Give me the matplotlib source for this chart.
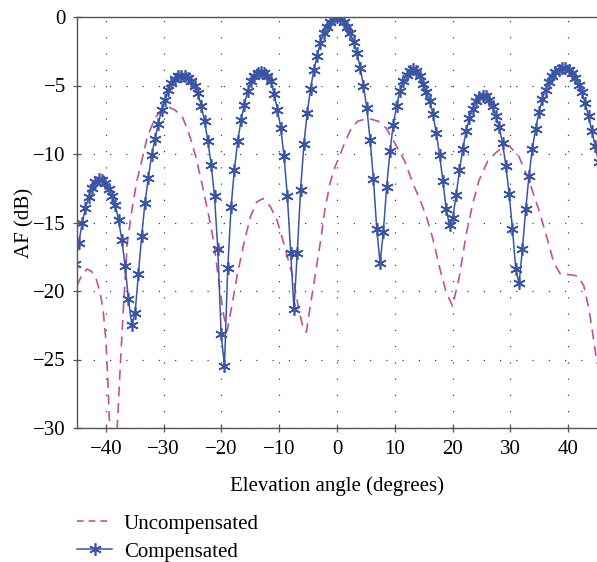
import numpy as np
import matplotlib.pyplot as plt
from matplotlib.lines import Line2D

plt.rcParams['font.family'] = ['Liberation Serif', 'DejaVu Serif']

# Compensated pattern, sampled every 0.01 rad (k = -79 ... 79)
comp_k = np.arange(-79, 80)
comp_af = [
    -18.0, -16.47, -15.07, -13.97, -13.15, -12.5, -12.05, -11.85, -11.9, -12.15,
    -12.55, -13.05, -13.7, -14.8, -16.25, -18.2, -20.6, -22.45, -21.63, -18.78,
    -15.96, -13.56, -11.74, -10.1, -8.92, -7.79, -6.8, -6.04, -5.36, -4.8,
    -4.5, -4.33, -4.28, -4.32, -4.45, -4.65, -5.0, -5.55, -6.5, -7.6,
    -9.05, -10.8, -13.1, -16.95, -23.14, -25.45, -18.3, -13.9, -11.14, -9.07,
    -7.55, -6.4, -5.43, -4.7, -4.29, -4.1, -4.05, -4.12, -4.3, -4.7,
    -5.6, -6.77, -8.1, -10.17, -13.05, -17.2, -21.3, -17.2, -12.6, -9.3,
    -7.0, -5.27, -3.86, -2.84, -1.87, -1.17, -0.7, -0.35, -0.1, 0.0,
    -0.1, -0.34, -0.7, -1.19, -1.8, -2.6, -3.7, -5.02, -6.65, -8.95,
    -11.8, -15.45, -17.95, -15.7, -12.4, -9.8, -7.86, -6.5, -5.4, -4.7,
    -4.22, -3.93, -3.81, -3.95, -4.3, -4.9, -5.5, -6.1, -7.1, -8.5,
    -10.1, -12.0, -14.05, -15.2, -14.65, -12.96, -11.2, -9.63, -8.35, -7.37,
    -6.72, -6.16, -5.85, -5.75, -5.8, -6.05, -6.5, -7.25, -8.03, -9.2,
    -10.85, -12.9, -15.45, -18.4, -19.45, -16.96, -14.05, -11.57, -9.63, -8.15,
    -6.96, -6.0, -5.31, -4.75, -4.34, -4.05, -3.86, -3.74, -3.74, -3.86,
    -4.1, -4.45, -4.95, -5.5, -6.3, -7.25, -8.35, -9.39, -10.6,
]
comp_angle = np.degrees(comp_k * 0.01)

# Uncompensated pattern (angle in degrees, AF in dB)
unc_angle = [
    -45.0, -44.0, -43.2, -42.4, -41.7, -41.0, -40.5, -40.0, -39.7, -39.3,
    -38.8, -38.1, -37.6, -37.0, -36.3, -35.4, -34.6, -33.8, -32.8, -31.4,
    -30.0, -29.0, -28.0, -26.8, -25.7, -24.5, -23.4, -22.2, -21.3, -20.5,
    -19.6, -19.0, -18.2, -17.3, -16.1, -15.0, -13.9, -12.8, -11.6, -10.4,
    -9.3, -8.4, -7.6, -6.7, -5.8, -5.3, -4.7, -3.8, -2.9, -2.1,
    -1.2, -0.3, 0.5, 1.3, 2.5, 3.6, 5.4, 7.1, 8.5, 10.0,
    11.7, 13.1, 14.6, 15.5, 16.6, 17.7, 18.9, 20.0, 21.2, 22.3,
    23.5, 24.6, 26.1, 27.5, 28.9, 29.8, 31.5, 33.2, 34.9, 36.4,
    37.5, 38.7, 40.1, 41.6, 42.7, 43.6, 44.5, 45.0,
]
unc_af = [
    -19.6, -18.7, -18.4, -18.6, -19.1, -20.1, -21.3, -23.6, -26.2, -30.5,
    -40.0, -30.5, -26.2, -21.5, -16.5, -13.8, -11.9, -10.5, -8.7, -7.3,
    -6.75, -6.6, -6.8, -7.25, -8.4, -10.1, -12.1, -14.5, -16.5, -19.2,
    -21.8, -22.9, -21.1, -18.9, -16.5, -14.6, -13.5, -13.25, -13.8, -14.8,
    -16.4, -17.8, -19.0, -21.2, -22.8, -23.0, -21.3, -18.9, -16.5, -14.1,
    -12.1, -10.9, -10.1, -9.2, -8.1, -7.6, -7.4, -7.6, -8.1, -9.2,
    -10.5, -12.1, -13.6, -14.6, -16.2, -18.2, -20.1, -21.1, -18.9, -16.0,
    -13.6, -11.9, -10.5, -9.9, -9.45, -9.4, -10.2, -11.9, -14.05, -16.2,
    -17.9, -18.8, -18.8, -18.9, -19.6, -21.3, -23.75, -25.3,
]

blue = '#3a55a6'
pink = '#c44f9e'
fs = 15

fig = plt.figure(figsize=(5.97, 5.62), dpi=100)
ax = fig.add_axes([77 / 597, 1 - 428 / 562, 1 - 77 / 597, 411 / 562])

ax.plot(unc_angle, unc_af, color=pink, lw=1.2, dashes=(6, 4))
ax.plot(comp_angle, comp_af, color=blue, lw=1.1,
        marker=(6, 2, 0), ms=9, mew=1.2)

ax.set_xlim(-45, 45)
ax.set_ylim(-30, 0)
ax.set_xticks(np.arange(-40, 41, 10))
ax.set_yticks(np.arange(-30, 1, 5))
ax.grid(True, color='#444444', lw=0.9, ls=(0, (1, 12)))
ax.tick_params(direction='inout', length=6, width=0.9, color='#555555',
               labelsize=fs, pad=6)
ax.tick_params(axis='y', pad=5)
for s in ['left', 'bottom', 'top']:
    ax.spines[s].set_color('#555555')
    ax.spines[s].set_linewidth(1.0)
ax.spines['right'].set_visible(False)

ax.set_xlabel('Elevation angle (degrees)', fontsize=fs, labelpad=12)
ax.set_ylabel('AF (dB)', fontsize=fs, labelpad=-1)

handles = [
    Line2D([], [], color=pink, lw=1.2, dashes=(4, 3)),
    Line2D([], [], color=blue, lw=1.1, marker=(6, 2, 0), ms=9, mew=1.2),
]
fig.legend(handles, ['Uncompensated', 'Compensated'], loc='upper left',
           bbox_to_anchor=(77 / 597, 1 - 514 / 562), frameon=False,
           fontsize=fs, handlelength=1.7, handletextpad=0.55,
           labelspacing=0.4, borderpad=0, borderaxespad=0)

fig.savefig('out.png', dpi=100)
